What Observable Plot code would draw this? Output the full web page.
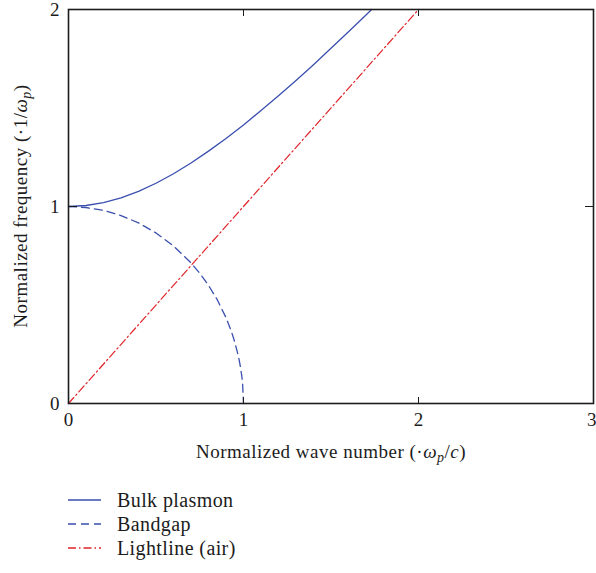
<!DOCTYPE html>
<html><head><meta charset="utf-8">
<script src="https://cdn.jsdelivr.net/npm/d3@7"></script>
<script src="https://cdn.jsdelivr.net/npm/@observablehq/plot@0.6"></script>
<style>
body{margin:0;background:#fff}
svg{font-family:"Liberation Serif","DejaVu Serif",serif}
</style>
</head><body><div id="chart"></div>
<script>
const bulkK = [0, 0.1, 0.2, 0.3, 0.4, 0.5, 0.6, 0.7, 0.8, 0.9, 1.0, 1.1, 1.2, 1.3, 1.4, 1.5, 1.6, 1.7, 1.732];
const bulkW = [1.000, 1.005, 1.020, 1.044, 1.077, 1.118, 1.166, 1.221, 1.281, 1.345, 1.414, 1.487, 1.562, 1.640, 1.720, 1.803, 1.887, 1.972, 2.000];
const gapK = [0, 0.1, 0.2, 0.3, 0.4, 0.5, 0.6, 0.7, 0.75, 0.8, 0.85, 0.9, 0.93, 0.95, 0.97, 0.98, 0.99, 0.995, 1.0];
const gapW = [1.000, 0.995, 0.980, 0.954, 0.917, 0.866, 0.800, 0.714, 0.661, 0.600, 0.527, 0.436, 0.368, 0.312, 0.243, 0.199, 0.141, 0.100, 0.000];
const lightK = [0, 2];
const lightW = [0, 2];
const xTicks = [0, 1, 2];
const xEdgeTicks = [3];
const yTicks = [0, 1, 2];
const innerXTicks = [1, 2];
const innerYTicks = [1];
const seriesNames = ["Bulk plasmon", "Bandgap", "Lightline (air)"];
const seriesColors = ["#3a4fae", "#3a4fae", "#e0242a"];
const seriesDash = [null, "8,5", "8,3,1.5,3"];

const bulk = bulkK.map((k, i) => ({k, w: bulkW[i]}));
const gap = gapK.map((k, i) => ({k, w: gapW[i]}));
const light = lightK.map((k, i) => ({k, w: lightW[i]}));
const ink = "#1c1c1c";
const fmt = d3.format("d");

const plot = Plot.plot({
  width: 596, height: 573,
  marginLeft: 68, marginRight: 3, marginTop: 9, marginBottom: 170,
  style: {fontFamily: "Liberation Serif, DejaVu Serif, serif", fontSize: "19px", color: ink, background: "#fff"},
  x: {domain: [0, 3], label: null},
  y: {domain: [0, 2], label: null},
  marks: [
    Plot.line(bulk, {x: "k", y: "w", stroke: seriesColors[0], strokeWidth: 1.3}),
    Plot.line(gap, {x: "k", y: "w", stroke: seriesColors[1], strokeWidth: 1.3, strokeDasharray: seriesDash[1]}),
    Plot.line(light, {x: "k", y: "w", stroke: seriesColors[2], strokeWidth: 1.2, strokeDasharray: seriesDash[2]}),
    Plot.frame({stroke: ink, strokeWidth: 1.6}),
    Plot.axisX({anchor: "bottom", ticks: xTicks, tickFormat: fmt, tickSize: 0, tickPadding: 9, label: null, fontSize: 19}),
    Plot.axisX({anchor: "bottom", ticks: xEdgeTicks, tickFormat: fmt, tickSize: 0, tickPadding: 9, label: null, fontSize: 19, textAnchor: "end", dx: 3}),
    Plot.axisY({anchor: "left", ticks: yTicks, tickFormat: fmt, tickSize: 0, tickPadding: 9, label: null, fontSize: 19}),
    Plot.axisX({anchor: "bottom", ticks: innerXTicks, tickSize: -6, tickFormat: () => "", label: null, stroke: ink}),
    Plot.axisX({anchor: "top", ticks: innerXTicks, tickSize: -6, tickFormat: () => "", label: null, stroke: ink}),
    Plot.axisY({anchor: "left", ticks: innerYTicks, tickSize: -9, tickFormat: () => "", label: null, stroke: ink}),
    Plot.axisY({anchor: "right", ticks: innerYTicks, tickSize: -9, tickFormat: () => "", label: null, stroke: ink})
  ]
});
document.getElementById("chart").append(plot);

const svg = d3.select(plot);
function richLabel(sel, parts) {
  for (const [t, style] of parts) {
    const ts = sel.append("tspan").text(t);
    if (style && style.includes("i")) ts.attr("font-style", "italic");
    if (style && style.includes("s")) ts.attr("baseline-shift", "-25%").attr("font-size", "14px");
  }
}
const xl = svg.append("text").attr("x", 331).attr("y", 458).attr("text-anchor", "middle")
  .attr("font-size", 19).attr("letter-spacing", "0.5px").attr("fill", ink);
richLabel(xl, [["Normalized wave number (\u00b7", ""], ["\u03c9", "i"], ["p", "is"], ["/", ""], ["c", "i"], [")", ""]]);
const yl = svg.append("text").attr("transform", "translate(27,206) rotate(-90)").attr("text-anchor", "middle")
  .attr("font-size", 19).attr("letter-spacing", "0.5px").attr("fill", ink);
richLabel(yl, [["Normalized frequency (\u00b71/", ""], ["\u03c9", "i"], ["p", "is"], [")", ""]]);

// Legend
const leg = svg.append("g");
seriesNames.forEach((name, i) => {
  const y = 500 + i * 24;
  leg.append("line").attr("x1", 68).attr("x2", 101).attr("y1", y).attr("y2", y)
    .attr("stroke", seriesColors[i]).attr("stroke-width", 1.3)
    .attr("stroke-dasharray", seriesDash[i]);
  leg.append("text").attr("x", 117).attr("y", y).attr("dy", "0.35em").attr("font-size", 20)
    .attr("letter-spacing", "0.4px").attr("text-anchor", "start")
    .attr("fill", ink).text(name);
});
</script>
</body></html>
